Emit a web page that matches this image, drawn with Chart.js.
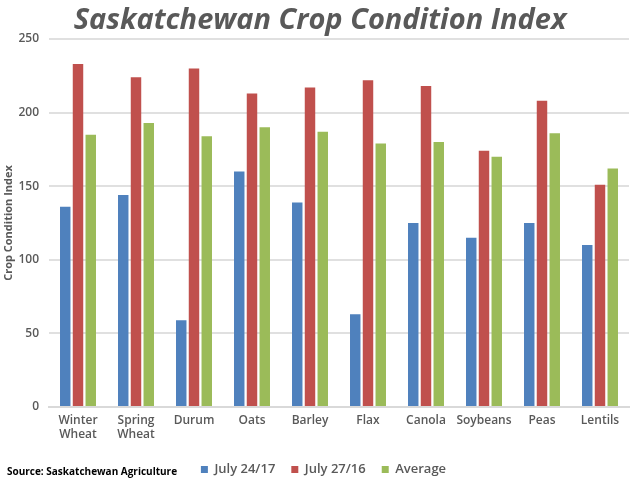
<!DOCTYPE html>
<html>
<head>
<meta charset="utf-8">
<style>
  html, body { margin: 0; padding: 0; background: #fff; }
  #wrap { width: 640px; height: 480px; position: relative; }
</style>
<script src="https://cdn.jsdelivr.net/npm/chart.js@4"></script>
</head>
<body>
<div id="wrap"><canvas id="crop-chart" width="640" height="480"></canvas></div>
<script>
const categories = [['Winter', 'Wheat'], ['Spring', 'Wheat'], 'Durum', 'Oats', 'Barley', 'Flax', 'Canola', 'Soybeans', 'Peas', 'Lentils'];
const july2417 = [136, 144, 59, 160, 139, 63, 125, 115, 125, 110];
const july2716 = [233, 224, 230, 213, 217, 222, 218, 174, 208, 151];
const average = [185, 193, 184, 190, 187, 179, 180, 170, 186, 162];

const textColor = '#595959';
const fontFamily = '"Open Sans", sans-serif';
const labelFont = { family: fontFamily, size: 12, weight: '600', lineHeight: 1.13 };

// titre et source dessinés à la main sur le canvas, légende décalée
const overlayText = {
    id: 'overlayText',
    afterLayout(chart) {
        const legend = chart.legend;
        legend.left += 8;
        legend.right += 8;
        legend.top += 2;
        legend.bottom += 2;
    },
    afterDraw(chart) {
        const c = chart.ctx;
        c.save();
        c.fillStyle = '#595959';
        c.font = 'italic bold 29px "Open Sans", sans-serif';
        c.textAlign = 'center';
        c.textBaseline = 'middle';
        c.fillText('Saskatchewan Crop Condition Index', 320, 21);
        c.fillStyle = '#000';
        c.font = 'bold 10px "Open Sans", sans-serif';
        c.textAlign = 'left';
        c.fillText('Source: Saskatchewan Agriculture', 7, 472);
        c.restore();
    }
};

const barStyle = { barPercentage: 0.82, categoryPercentage: 0.66 };

new Chart(document.getElementById('crop-chart'), {
    type: 'bar',
    data: {
        labels: categories,
        datasets: [
            { label: 'July 24/17', data: july2417, backgroundColor: '#4f81bd', ...barStyle },
            { label: 'July 27/16', data: july2716, backgroundColor: '#c0504d', ...barStyle },
            { label: 'Average', data: average, backgroundColor: '#9bbb59', ...barStyle }
        ]
    },
    options: {
        responsive: false,
        animation: false,
        layout: { padding: { top: 39, right: 11, bottom: -4, left: 2 } },
        plugins: {
            title: { display: false },
            tooltip: { enabled: false },
            legend: {
                position: 'bottom',
                labels: {
                    color: textColor,
                    boxWidth: 7,
                    boxHeight: 7,
                    padding: 16,
                    font: { family: fontFamily, size: 13, weight: '600' }
                }
            }
        },
        scales: {
            y: {
                min: 0,
                max: 250,
                afterFit(axis) { axis.width = 47; },
                ticks: {
                    stepSize: 50,
                    color: textColor,
                    padding: 10,
                    font: labelFont
                },
                grid: { color: '#e0e0e0', lineWidth: 2, drawTicks: false },
                border: { display: false },
                title: {
                    display: true,
                    text: 'Crop Condition Index',
                    color: textColor,
                    padding: 0,
                    font: { family: fontFamily, size: 11, weight: 'bold' }
                }
            },
            x: {
                afterFit(axis) { axis.height = 38; },
                ticks: {
                    color: textColor,
                    maxRotation: 0,
                    autoSkip: false,
                    padding: 7,
                    font: labelFont
                },
                grid: { display: false, drawTicks: false },
                border: { color: '#d9d9d9', width: 2 }
            }
        }
    },
    plugins: [overlayText]
});
</script>
</body>
</html>
